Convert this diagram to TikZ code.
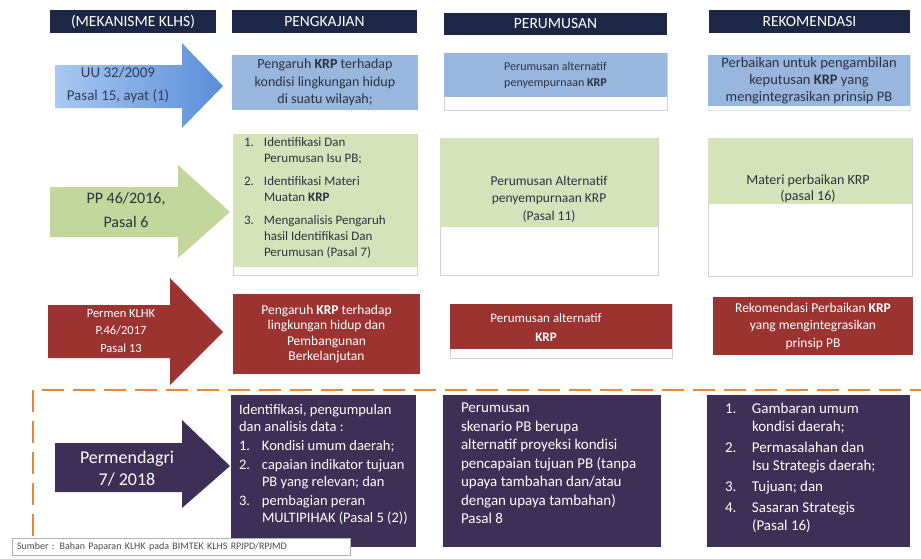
\documentclass[tikz,border=0pt]{standalone}
\usepackage{fontspec}
\setmainfont{Carlito}
\usepackage{xcolor}
\usetikzlibrary{positioning}

\definecolor{navy}{HTML}{1B2744}
\definecolor{arrblueL}{HTML}{A9C8F2}
\definecolor{arrblueR}{HTML}{5A8ED8}
\definecolor{boxblue}{HTML}{98B6DE}
\definecolor{arrgreen}{HTML}{C3D69B}
\definecolor{boxgreen}{HTML}{D5E3BA}
\definecolor{boxred}{HTML}{9B3330}
\definecolor{boxpurple}{HTML}{3D2F55}
\definecolor{dashorange}{HTML}{E8873A}
\definecolor{txtdark}{HTML}{2B3340}

\newcommand{\fsz}[2]{\fontsize{#1}{#2}\selectfont}

\begin{document}
\begin{tikzpicture}[
  x=1pt, y=-1pt,
  every node/.style={inner sep=2pt, outer sep=0pt, text=txtdark},
  head/.style={fill=navy, text=white, minimum height=23pt, font=\fsz{15.5}{17}},
  frame/.style={draw=gray!35, fill=white, line width=0.8pt},
  bluebox/.style={fill=boxblue, align=center},
  greenbox/.style={fill=boxgreen, align=center},
  redbox/.style={fill=boxred, text=white, align=center},
  purplebox/.style={fill=boxpurple},
  arrtext/.style={align=center},
]
\useasboundingbox (0,0) rectangle (921,558);

% ── header bar ──
\node[head, minimum width=166pt] (hMek)   at (133,21.5)   {(MEKANISME KLHS)};
\node[head, minimum width=185pt] (hPeng)  at (324.5,21.5) {PENGKAJIAN};
\node[head, minimum width=223pt, minimum height=22pt] (hPerum) at (555.5,24) {PERUMUSAN};
\node[head, minimum width=201pt] (hRek)   at (809.5,21.5) {REKOMENDASI};

% ── row 1: UU 32/2009 ──
\path[left color=arrblueL, right color=arrblueR]
  (55,65) -- (182,65) -- (182,43) -- (223,86) -- (182,128) -- (182,108) -- (55,108) -- cycle;
\node[arrtext, font=\fsz{15}{23}, text=navy!90] (uu) at (118,85) {UU 32/2009\\Pasal 15, ayat (1)};

\node[bluebox, minimum width=186pt, minimum height=55pt, font=\fsz{14}{17.5}] (peng1) at (325,82.5)
  {Pengaruh \textbf{KRP} terhadap\\kondisi lingkungan hidup\\di suatu wilayah;};
\node[frame, minimum width=223pt, minimum height=57pt] (perum1f) at (555.5,81.5) {};
\node[bluebox, minimum width=223pt, minimum height=44pt, font=\fsz{12}{16}] (perum1) at (555.5,75)
  {Perumusan alternatif\\penyempurnaan \textbf{KRP}};
\node[frame, draw=gray!20, minimum width=202pt, minimum height=55pt] (rek1f) at (809,82.5) {};
\node[bluebox, minimum width=202pt, minimum height=51pt, font=\fsz{14.5}{17}] (rek1) at (809,80.5)
  {Perbaikan untuk pengambilan\\keputusan \textbf{KRP} yang\\mengintegrasikan prinsip PB};

% ── row 2: PP 46/2016 ──
\fill[arrgreen] (50,187) -- (178,187) -- (178,165) -- (230,212) -- (178,258) -- (178,237) -- (50,237) -- cycle;
\node[arrtext, font=\fsz{16}{24}] (pp) at (126,210) {PP 46/2016,\\Pasal 6};

\node[frame, minimum width=184pt, minimum height=141pt] (peng2f) at (325,204.5) {};
\node[greenbox, minimum width=184pt, minimum height=133pt] (peng2) at (325,200.5) {};
\node[anchor=north west, inner sep=0pt, font=\fsz{13}{16}] (peng2txt) at (244,135) {%
  \begin{tabular}{@{}p{14pt}@{\hspace{6pt}}l@{}}
  1. & Identifikasi Dan\\
     & Perumusan Isu PB;\\[7pt]
  2. & Identifikasi Materi\\
     & Muatan \textbf{KRP}\\[7pt]
  3. & Menganalisis Pengaruh\\
     & hasil Identifikasi Dan\\
     & Perumusan (Pasal 7)
  \end{tabular}};

\node[frame, minimum width=218pt, minimum height=137pt] (perum2f) at (549,206.5) {};
\node[greenbox, minimum width=218pt, minimum height=89pt] (perum2) at (549,182.5) {};
\node[arrtext, font=\fsz{13.5}{17.5}] (perum2txt) at (549,199) {Perumusan Alternatif\\penyempurnaan KRP\\(Pasal 11)};

\node[frame, minimum width=204pt, minimum height=138pt] (rek2f) at (810,207) {};
\node[greenbox, minimum width=204pt, minimum height=66pt] (rek2) at (810,171) {};
\node[arrtext, font=\fsz{14}{16}] (rek2txt) at (808,189) {Materi perbaikan KRP\\(pasal 16)};

% ── row 3: Permen KLHK ──
\fill[boxred] (48,305) -- (170,305) -- (170,278) -- (223,332) -- (170,385) -- (170,358) -- (48,358) -- cycle;
\node[arrtext, text=white, font=\fsz{12.5}{17.5}] (permen) at (121,331) {Permen KLHK\\P.46/2017\\Pasal 13};

\node[redbox, minimum width=187pt, minimum height=80pt, font=\fsz{13.5}{15.5}] (peng3) at (326.5,334)
  {Pengaruh \textbf{KRP} terhadap\\lingkungan hidup dan\\Pembangunan\\Berkelanjutan};
\node[frame, minimum width=222pt, minimum height=54pt] (perum3f) at (561,331) {};
\node[redbox, minimum width=222pt, minimum height=45pt] (perum3) at (561,326.5) {};
\node[arrtext, text=white, font=\fsz{13}{19}] (perum3txt) at (546,327) {Perumusan alternatif\\\textbf{KRP}};
\node[redbox, minimum width=200pt, minimum height=58pt, font=\fsz{13.5}{17.5}] (rek3) at (813,326)
  {Rekomendasi Perbaikan \textbf{KRP}\\yang mengintegrasikan\\prinsip PB};

% ── row 4: Permendagri 7/2018 ──
\draw[dashorange, line width=2.5pt, dash pattern=on 22pt off 9pt] (33,536) -- (33,390) -- (921,390);

\fill[boxpurple] (55,443) -- (182,443) -- (182,420) -- (230,466) -- (182,508) -- (182,492) -- (55,492) -- cycle;
\node[arrtext, text=white, font=\fsz{18}{22}] (dagri) at (127,469) {Permendagri\\7/ 2018};

\node[purplebox, minimum width=185pt, minimum height=152pt] (peng4) at (323.5,471) {};
\node[anchor=north west, inner sep=0pt, text=white, font=\fsz{14.5}{17}] (peng4txt) at (239,403) {%
  \begin{tabular}{@{}p{16pt}@{\hspace{7pt}}l@{}}
  \multicolumn{2}{@{}l@{}}{Identifikasi, pengumpulan}\\
  \multicolumn{2}{@{}l@{}}{dan analisis data :}\\[2pt]
  1. & Kondisi umum daerah;\\[2pt]
  2. & capaian indikator tujuan\\
     & PB yang relevan; dan\\[2pt]
  3. & pembagian peran\\
     & MULTIPIHAK (Pasal 5 (2))
  \end{tabular}};

\node[purplebox, minimum width=218pt, minimum height=152pt] (perum4) at (552,471) {};
\node[anchor=north west, inner sep=0pt, text=white, align=left, font=\fsz{15}{18.5}] (perum4txt) at (461,403)
  {Perumusan\\skenario PB berupa\\alternatif proyeksi kondisi\\pencapaian tujuan PB (tanpa\\upaya tambahan dan/atau\\dengan upaya tambahan)\\Pasal 8};

\node[purplebox, minimum width=203pt, minimum height=152pt] (rek4) at (808.5,471) {};
\node[anchor=north west, inner sep=0pt, text=white, font=\fsz{15}{18}] (rek4txt) at (725,401) {%
  \begin{tabular}{@{}p{20pt}@{\hspace{7pt}}l@{}}
  1. & Gambaran umum\\
     & kondisi daerah;\\[3pt]
  2. & Permasalahan dan\\
     & Isu Strategis daerah;\\[3pt]
  3. & Tujuan; dan\\[3pt]
  4. & Sasaran Strategis\\
     & (Pasal 16)
  \end{tabular}};

% ── source ──
\node[draw=gray!60, fill=white, anchor=west, minimum height=17pt, text width=328pt,
      font=\fsz{10}{11}, text=black!70, inner xsep=5pt] (src) at (12,546.5)
  {Sumber : Bahan Paparan KLHK pada BIMTEK KLHS RPJPD/RPJMD};

\end{tikzpicture}
\end{document}
